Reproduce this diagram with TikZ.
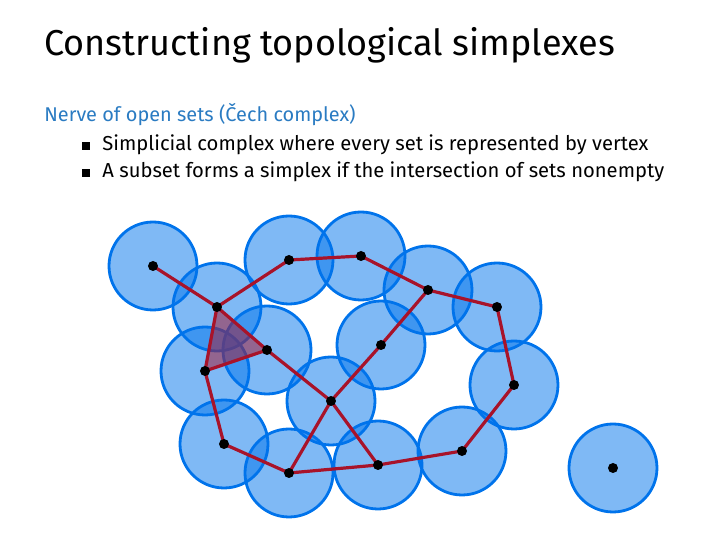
\documentclass[tikz,border=0pt]{standalone}
\usepackage{fontspec}
\setmainfont{Fira Sans}
\usetikzlibrary{positioning,backgrounds}
\definecolor{setBlue}{HTML}{0073EB}
\definecolor{edgeRed}{HTML}{A8132A}
\definecolor{headBlue}{HTML}{2A7BC2}

\begin{document}
\begin{tikzpicture}[x=0.5pt, y=-0.5pt,
  vtx/.style={circle, fill=black, inner sep=0pt, minimum size=5pt},
  ball/.style={fill=setBlue, fill opacity=0.5},
  rim/.style={draw=setBlue, line width=1.4pt},
  edge/.style={draw=edgeRed, line width=1.6pt},
  bul/.style={rectangle, fill=black, inner sep=0pt, minimum size=4pt},
  txt/.style={anchor=base west, inner sep=0pt, font=\fontsize{10.1}{12}\selectfont}]
\useasboundingbox (0,0) rectangle (720,540);
% heading and items
\node[txt, font=\fontsize{18}{21}\selectfont] (title) at (44,56) {Constructing topological simplexes};
\node[txt, headBlue, font=\fontsize{9.95}{12}\selectfont] (sub) at (44,122) {Nerve of open sets (Čech complex)};
\node[txt] (itemA) at (102,151) {Simplicial complex where every set is represented by vertex};
\node[txt] (itemB) at (102,178) {A subset forms a simplex if the intersection of sets nonempty};
\node[bul] (bulA) at (86,146) {};
\node[bul] (bulB) at (86,173) {};
% centres of the sets
\node[vtx] (a) at (153,266) {};
\node[vtx] (b) at (217,307) {};
\node[vtx] (c) at (289,260) {};
\node[vtx] (d) at (361,256) {};
\node[vtx] (e) at (267,350) {};
\node[vtx] (f) at (205,371) {};
\node[vtx] (g) at (381,345) {};
\node[vtx] (h) at (331,401) {};
\node[vtx] (i) at (428,290) {};
\node[vtx] (j) at (497,307) {};
\node[vtx] (k) at (514,385) {};
\node[vtx] (l) at (462,451) {};
\node[vtx] (m) at (378,465) {};
\node[vtx] (n) at (613,468) {};
\node[vtx] (o) at (224,444) {};
\node[vtx] (p) at (289,473) {};
\begin{scope}[on background layer]
  \foreach \v in {a,b,c,d,e,f,g,h,i,j,k,l,m,n,o,p}
    \fill[ball] (\v.center) circle[radius=22pt];
  \foreach \v in {a,b,c,d,e,f,g,h,i,j,k,l,m,n,o,p}
    \draw[rim] (\v.center) circle[radius=22pt];
  % the 2-simplex
  \fill[edgeRed, fill opacity=0.5] (b.center) -- (e.center) -- (f.center) -- cycle;
  \foreach \s/\t in {a/b,b/c,c/d,d/i,i/j,j/k,k/l,l/m,m/p,p/o,o/f,f/b,b/e,e/f,e/h,h/g,g/i,h/p,h/m}
    \draw[edge] (\s.center) -- (\t.center);
\end{scope}
\end{tikzpicture}
\end{document}
